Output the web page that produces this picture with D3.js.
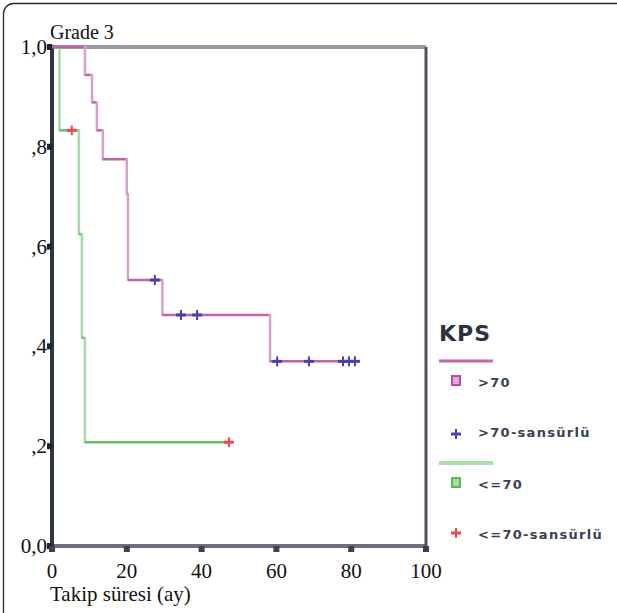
<!DOCTYPE html>
<html>
<head>
<meta charset="utf-8">
<script src="https://cdn.jsdelivr.net/npm/d3@7"></script>
<style>
  body { margin: 0; background: #fff; }
  svg { display: block; }
</style>
</head>
<body>
<div id="chart"></div>
<script>
// Kaplan-Meier curves, Grade 3, grouped by KPS

// >70 group: step times and survival
var hiTimes = [0, 8.8, 10.7, 12, 13.6, 20, 20.3, 29.5, 58.3, 81];
var hiSurv  = [1.0, 0.944, 0.889, 0.833, 0.775, 0.705, 0.533, 0.463, 0.370, 0.370];
var hiCensT = [27.5, 34.5, 38.8, 60.2, 68.7, 77.8, 79.4, 81];
var hiCensS = [0.533, 0.463, 0.463, 0.370, 0.370, 0.370, 0.370, 0.370];

// <=70 group
var loTimes = [0, 2, 7.2, 8, 8.8, 47.3];
var loSurv  = [1.0, 0.833, 0.625, 0.417, 0.208, 0.208];
var loCensT = [5.3, 47.3];
var loCensS = [0.833, 0.208];

var xTicks = [0, 20, 40, 60, 80, 100];
var yTicks = [0, 0.2, 0.4, 0.6, 0.8, 1.0];
var yTickLabels = ["0,0", ",2", ",4", ",6", ",8", "1,0"];

var legendTitle = "KPS";
var legendLabels = [">70", ">70-sansürlü", "<=70", "<=70-sansürlü"];

var W = 617, H = 613;
var serif = "Liberation Serif, Times New Roman, serif";
var svg = d3.select("#chart").append("svg")
    .attr("width", W)
    .attr("height", H);

// outer frame (runs off the right / bottom edge)
svg.append("rect")
    .attr("x", 3.5).attr("y", 3.5)
    .attr("width", 720).attr("height", 720)
    .attr("rx", 10)
    .attr("fill", "none")
    .attr("stroke", "#2a2a2a")
    .attr("stroke-width", 1.3);

var x = d3.scaleLinear().domain([0, 100]).range([52, 426]);
var y = d3.scaleLinear().domain([0, 1]).range([546, 47]);

// plot box: top & bottom grey, left & right dark
svg.append("line")
    .attr("x1", x(0)).attr("x2", x(100))
    .attr("y1", y(1)).attr("y2", y(1))
    .attr("stroke", "#9a9ba6").attr("stroke-width", 4);
svg.append("line")
    .attr("x1", x(0)).attr("x2", x(100))
    .attr("y1", y(0)).attr("y2", y(0))
    .attr("stroke", "#6e6f7a").attr("stroke-width", 4);
svg.append("line")
    .attr("x1", x(100)).attr("x2", x(100))
    .attr("y1", y(1)).attr("y2", y(0) + 2)
    .attr("stroke", "#4a5262").attr("stroke-width", 3);
svg.append("line")
    .attr("x1", x(0)).attr("x2", x(0))
    .attr("y1", y(1) - 2).attr("y2", y(0) + 2)
    .attr("stroke", "#2e3644").attr("stroke-width", 4);

// y ticks
svg.selectAll(".ytick")
    .data(yTicks)
    .enter().append("rect")
    .attr("class", "ytick")
    .attr("x", x(0) - 5).attr("y", function(d) { return y(d) - 3; })
    .attr("width", 5).attr("height", 6)
    .attr("fill", "#1c2230");
svg.selectAll(".ylab")
    .data(yTicks)
    .enter().append("text")
    .attr("class", "ylab")
    .attr("x", x(0) - 5)
    .attr("y", function(d) { return y(d) + 7; })
    .attr("text-anchor", "end")
    .attr("font-family", serif)
    .attr("font-size", 21)
    .attr("fill", "#111")
    .text(function(d, i) { return yTickLabels[i]; });

// x ticks
svg.selectAll(".xtick")
    .data(xTicks)
    .enter().append("rect")
    .attr("class", "xtick")
    .attr("x", function(d) { return x(d) - 3; }).attr("y", y(0))
    .attr("width", 6).attr("height", 6)
    .attr("fill", "#3c4250");
svg.selectAll(".xlab")
    .data(xTicks)
    .enter().append("text")
    .attr("class", "xlab")
    .attr("x", function(d) { return x(d); })
    .attr("y", 578)
    .attr("text-anchor", "middle")
    .attr("font-family", serif)
    .attr("font-size", 21)
    .attr("fill", "#111")
    .text(function(d) { return d; });

svg.append("text")
    .attr("x", 50).attr("y", 601)
    .attr("font-family", serif)
    .attr("font-size", 21)
    .attr("fill", "#111")
    .text("Takip süresi (ay)");

svg.append("text")
    .attr("x", 50).attr("y", 39)
    .attr("font-family", serif)
    .attr("font-size", 20)
    .attr("fill", "#111")
    .text("Grade 3");

// step curve drawn as separate runs so the drops can be lighter
function drawSteps(times, surv, hCol, vCol) {
  var g = svg.append("g");
  for (var i = 0; i < times.length - 1; i++) {
    g.append("line")
        .attr("x1", x(times[i])).attr("x2", x(times[i + 1]))
        .attr("y1", y(surv[i])).attr("y2", y(surv[i]))
        .attr("stroke", hCol).attr("stroke-width", 2.5);
    if (surv[i + 1] !== surv[i]) {
      g.append("line")
          .attr("x1", x(times[i + 1])).attr("x2", x(times[i + 1]))
          .attr("y1", y(surv[i]) - 1).attr("y2", y(surv[i + 1]) + 1)
          .attr("stroke", vCol).attr("stroke-width", 2.5);
    }
  }
}

drawSteps(loTimes, loSurv, "#66bd68", "#a6d8a4");
drawSteps(hiTimes, hiSurv, "#c262aa", "#d6a2cc");

function plus(sel, cx, cy, col, s) {
  sel.append("line")
      .attr("x1", cx - s).attr("x2", cx + s).attr("y1", cy).attr("y2", cy)
      .attr("stroke", col).attr("stroke-width", 3);
  sel.append("line")
      .attr("x1", cx).attr("x2", cx).attr("y1", cy - s).attr("y2", cy + s)
      .attr("stroke", col).attr("stroke-width", 2);
}

hiCensT.forEach(function(t, i) {
  plus(svg, x(t), y(hiCensS[i]), "#4a42a4", 5);
});
loCensT.forEach(function(t, i) {
  plus(svg, x(t), y(loCensS[i]), "#f0484c", 5);
});

// legend
var lg = svg.append("g");
lg.append("text")
    .attr("x", 439).attr("y", 341)
    .attr("font-family", "DejaVu Sans, sans-serif")
    .attr("font-weight", "bold")
    .attr("font-size", 22)
    .attr("letter-spacing", 1)
    .attr("fill", "#2a3242")
    .text(legendTitle);

lg.append("line")
    .attr("x1", 439).attr("x2", 493).attr("y1", 361).attr("y2", 361)
    .attr("stroke", "#c466ac").attr("stroke-width", 3);
lg.append("rect")
    .attr("x", 452).attr("y", 376).attr("width", 8).attr("height", 9)
    .attr("fill", "#e0a8d4").attr("stroke", "#c04aa2").attr("stroke-width", 2);
plus(lg, 456, 434, "#4a42a4", 5);

lg.append("line")
    .attr("x1", 439).attr("x2", 493).attr("y1", 463).attr("y2", 463)
    .attr("stroke", "#acdca8").attr("stroke-width", 4);
lg.append("rect")
    .attr("x", 452).attr("y", 478).attr("width", 8).attr("height", 9)
    .attr("fill", "#a8dca8").attr("stroke", "#5cbc5c").attr("stroke-width", 2);
plus(lg, 456, 533, "#f0484c", 5);

var labY = [387, 437, 489, 539];
legendLabels.forEach(function(l, i) {
  lg.append("text")
      .attr("x", 478).attr("y", labY[i])
      .attr("font-family", "DejaVu Sans, sans-serif")
      .attr("font-size", 13)
      .attr("font-weight", "bold")
      .attr("letter-spacing", 1.3)
      .attr("fill", "#3a4050")
      .text(l);
});
</script>
</body>
</html>
